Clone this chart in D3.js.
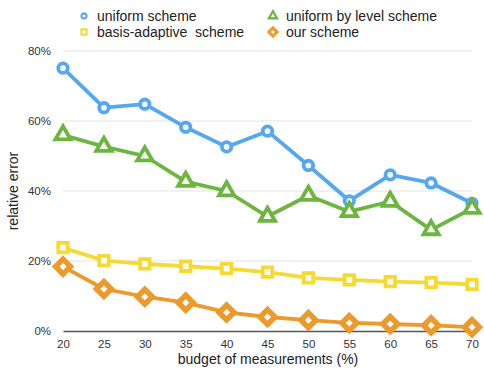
<!DOCTYPE html>
<html><head><meta charset="utf-8">
<script src="https://cdn.jsdelivr.net/npm/d3@7"></script>
<style>body{margin:0;background:#fff}svg{display:block;font-family:"Liberation Sans",Arial,sans-serif}text{white-space:pre}</style>
</head><body><svg id="c" width="484" height="371"></svg>
<script>
const budgets = [20,25,30,35,40,45,50,55,60,65,70];
const uniform = [75.1,63.8,64.8,58.2,52.6,57.1,47.3,37.2,44.6,42.3,36.5];
const uniformByLevel = [56,52.7,50,42.7,40,32.7,38.7,34.1,37,28.9,35];
const basisAdaptive = [23.8,20.1,19.2,18.5,17.8,16.8,15.2,14.6,14.1,13.8,13.3];
const ours = [18.4,12,9.8,8.1,5.3,4,3.1,2.3,2,1.6,1.1];
const yTicks = [0,20,40,60,80];

const series = [
  {name:"uniform scheme", values:uniform, color:"#55a8f0", shape:"circle"},
  {name:"uniform by level scheme", values:uniformByLevel, color:"#6cb53f", shape:"triangle"},
  {name:"basis-adaptive  scheme", values:basisAdaptive, color:"#f6da33", shape:"square"},
  {name:"our scheme", values:ours, color:"#ec9a2c", shape:"diamond"}
];

const svg = d3.select("#c");
const x = d3.scaleLinear().domain([20,70]).range([63,472]);
const y = d3.scaleLinear().domain([0,80]).range([331,51]);

svg.append("g").selectAll("line").data(yTicks.filter(d=>d>0)).join("line")
  .attr("x1",63).attr("x2",472).attr("y1",d=>y(d)).attr("y2",d=>y(d))
  .attr("stroke","#e3e3e3").attr("stroke-width",1);

svg.append("g").selectAll("text").data(yTicks).join("text")
  .attr("x",51).attr("y",d=>y(d)+4).attr("text-anchor","end")
  .attr("font-size",11.5).attr("fill","#333").text(d=>d+"%");

const xAxis = d3.axisBottom(x).tickValues(budgets).tickSize(0).tickPadding(9);
const gx = svg.append("g").attr("transform",`translate(0,${y(0)})`).call(xAxis);
gx.select(".domain").attr("stroke","#555").attr("stroke-width",1.6);
gx.selectAll("text").attr("font-size",11.5).attr("fill","#333").attr("font-family","Liberation Sans, Arial, sans-serif");

svg.append("text").attr("x",268).attr("y",364).attr("text-anchor","middle")
  .attr("font-size",14).attr("fill","#222").text("budget of measurements (%)");
svg.append("text").attr("transform",`translate(18,191) rotate(-90)`).attr("text-anchor","middle")
  .attr("font-size",14).attr("fill","#222").text("relative error");

const line = d3.line().x((d,i)=>x(budgets[i])).y(d=>y(d));
const sym = {
  circle: d3.symbol().type(d3.symbolCircle).size(70),
  triangle: d3.symbol().type(d3.symbolTriangle).size(100),
  square: d3.symbol().type(d3.symbolSquare).size(90),
  diamond: d3.symbol().type(d3.symbolSquare).size(110)
};
function drawMarker(g, shape, color, cx, cy, scale){
  const p = g.append("path").attr("d", sym[shape]())
    .attr("fill","#fff").attr("stroke",color).attr("stroke-width",(shape==="diamond"?5.5:3.8));
  let t = `translate(${cx},${cy})`;
  if(scale!==1) t += ` scale(${scale})`;
  if(shape==="diamond") t += " rotate(45)";
  p.attr("transform",t);
}
series.forEach(s=>{
  const g = svg.append("g");
  g.append("path").datum(s.values).attr("d",line).attr("fill","none")
    .attr("stroke",s.color).attr("stroke-width",3.8).attr("stroke-linejoin","round");
  s.values.forEach((v,i)=>drawMarker(g,s.shape,s.color,x(budgets[i]),y(v),1));
});

const legendPos = [[84,16],[273,16],[84,32],[273,32]];
series.forEach((s,i)=>{
  const [lx,ly] = legendPos[i];
  const g = svg.append("g");
  drawMarker(g,s.shape,s.color,lx,ly,0.55);
  g.append("text").attr("x",lx+13).attr("y",ly+5).attr("font-size",14).attr("fill","#222").text(s.name);
});
</script></body></html>
